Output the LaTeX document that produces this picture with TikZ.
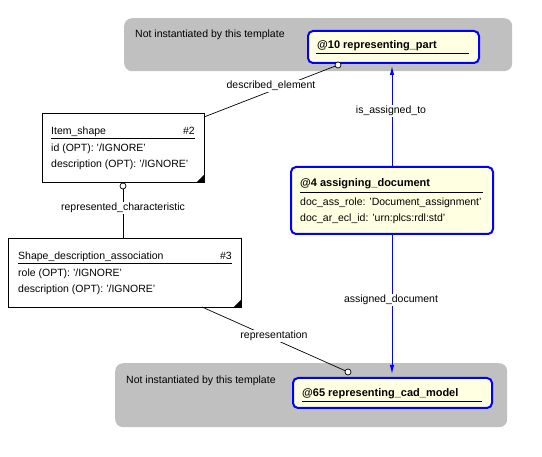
\documentclass[tikz,border=0pt]{standalone}
\usepackage{fontspec}
\setmainfont{Liberation Sans}
\usetikzlibrary{arrows.meta}
\definecolor{zonegrey}{HTML}{C0C0C0}
\definecolor{tplyellow}{HTML}{FFFFE1}
\begin{document}
\begin{tikzpicture}[x=1pt, y=-1pt, font=\fontsize{10.5}{12}\selectfont,
    zone/.style={fill=zonegrey, rounded corners=8pt, anchor=north west, inner sep=0},
    entity/.style={draw=black, line width=0.9pt, fill=white, anchor=north west, inner sep=0},
    tpl/.style={draw=blue, line width=2pt, fill=tplyellow, rounded corners=5pt, anchor=north west, inner sep=0},
    txt/.style={anchor=base west, inner sep=0},
    ttl/.style={anchor=base west, inner sep=0, font=\bfseries\fontsize{11}{13}\selectfont},
    lbl/.style={fill=white, inner sep=1pt},
    optend/.style={circle, draw, fill=white, line width=0.7pt, inner sep=0, minimum size=6pt}]
  \useasboundingbox [fill=white] (0,0) rectangle (542,457);
  % not instantiated zones
  \node[zone, minimum width=388, minimum height=53] (topzone) at (124,18) {};
  \node[txt] (topnote) at (135,38) {Not instantiated by this template};
  \node[zone, minimum width=392, minimum height=64] (botzone) at (115,363) {};
  \node[txt] (botnote) at (126,384) {Not instantiated by this template};
  % template boxes
  \node[tpl, minimum width=171, minimum height=32] (part) at (307,30) {};
  \node[ttl] (parttitle) at (317,49) {@10 representing\_part};
  \draw (316,53) -- (469,53);
  \node[tpl, minimum width=202, minimum height=67] (assign) at (290,166) {};
  \node[ttl] (assigntitle) at (300,187) {@4 assigning\_document};
  \draw (300,192) -- (483,192);
  \node[txt] (assignrole) at (300,206) {doc\_ass\_role: 'Document\_assignment'};
  \node[txt] (assignecl) at (300,222) {doc\_ar\_ecl\_id: 'urn:plcs:rdl:std'};
  \node[tpl, minimum width=199, minimum height=30] (cad) at (292,377) {};
  \node[ttl] (cadtitle) at (302,397) {@65 representing\_cad\_model};
  \draw (302,401) -- (482,401);
  % entities
  \node[entity, minimum width=162, minimum height=69] (item) at (42,113) {};
  \node[txt] (itemname) at (51,135) {Item\_shape};
  \node[anchor=base east, inner sep=0] (itemno) at (195,135) {\#2};
  \draw (51,138) -- (195,138);
  \node[txt] (itemid) at (51,152) {id (OPT): '/IGNORE'};
  \node[txt] (itemdesc) at (51,168) {description (OPT): '/IGNORE'};
  \fill (item.south east) -- ++(-9,0) -- ++(9,-9) -- cycle;
  \node[entity, minimum width=233, minimum height=69] (shape) at (8,238) {};
  \node[txt] (shapename) at (18,260) {Shape\_description\_association};
  \node[anchor=base east, inner sep=0] (shapeno) at (232,260) {\#3};
  \draw (18,263) -- (232,263);
  \node[txt] (shaperole) at (18,277) {role (OPT): '/IGNORE'};
  \node[txt] (shapedesc) at (18,293) {description (OPT): '/IGNORE'};
  \fill (shape.south east) -- ++(-9,0) -- ++(9,-9) -- cycle;
  % connectors
  \coordinate (itemtip) at (204,117);
  \node[optend] (deend) at (338,65) {};
  \draw[line width=0.7pt] (itemtip) -- (deend);
  \node[lbl] (delbl) at (271,86) {described\_element};
  \node[optend] (rcend) at (123,186) {};
  \draw[line width=0.7pt] (shape.north -| rcend) -- (rcend);
  \node[lbl] (rclbl) at (123,208) {represented\_characteristic};
  \coordinate (shapetip) at (202,307);
  \node[optend] (repend) at (348,372) {};
  \draw[line width=0.7pt] (shapetip) -- (repend);
  \node[lbl] (replbl) at (274,336) {representation};
  \draw[blue, line width=1pt, -{Latex[length=9pt,width=4.5pt]}, shorten >=2pt] (assign.north) -- (assign.north |- part.south);
  \node[lbl] (ialbl) at (391,111) {is\_assigned\_to};
  \draw[blue, line width=1pt, -{Latex[length=9pt,width=4.5pt]}, shorten >=3pt] (assign.south) -- (assign.south |- cad.north);
  \node[lbl] (adlbl) at (391,300) {assigned\_document};
\end{tikzpicture}
\end{document}
